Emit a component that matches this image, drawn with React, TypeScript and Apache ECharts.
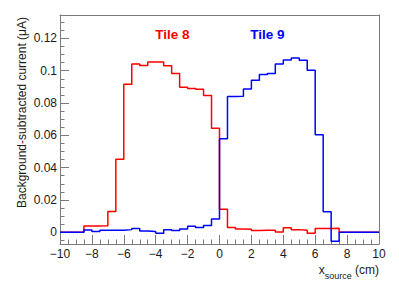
import React, { useEffect, useRef } from "react";
import * as echarts from "echarts";

// Lower edges of the 0.5 cm bins (x_source, cm)
const binLowEdges = [
  -10, -9.5, -9, -8.5, -8, -7.5, -7, -6.5, -6, -5.5,
  -5, -4.5, -4, -3.5, -3, -2.5, -2, -1.5, -1, -0.5,
  0, 0.5, 1, 1.5, 2, 2.5, 3, 3.5, 4, 4.5,
  5, 5.5, 6, 6.5, 7, 7.5, 8, 8.5, 9, 9.5,
];
const xUpperEdge = 10;

// Background-subtracted current (µA)
const tile8Values = [
  0, 0, 0, 0.0039, 0.0039, 0.004, 0.0128, 0.0452, 0.0916, 0.1042,
  0.1032, 0.1054, 0.1054, 0.103, 0.0983, 0.0897, 0.089, 0.0885, 0.0846, 0.0643,
  0.0142, 0.0029, 0.002, 0.0018, 0.001, 0.0012, 0.0012, 0.0002, 0.0027, 0.0016,
  0.0012, -0.0006, 0.0023, 0.0023, 0.0025, 0, 0, 0, 0, 0,
];
const tile9Values = [
  0, 0, 0, 0.0014, 0.0004, 0.0012, 0.0012, 0.0012, 0.0016, 0.0023,
  0.0008, 0.0004, -0.0006, 0.0016, 0.001, 0.002, 0.0037, 0.0029, 0.0041, 0.0082,
  0.0578, 0.084, 0.0842, 0.0887, 0.0941, 0.0976, 0.0982, 0.1042, 0.1067, 0.1079,
  0.1065, 0.1003, 0.0604, 0.0126, -0.0056, 0, 0, 0, 0, 0,
];

const seriesNames = ["Tile 8", "Tile 9"];
const yTitle = "Background-subtracted current (μA)";

const FONT = "'Liberation Sans', Arial, Helvetica, sans-serif";
const AXIS_COLOR = "#7a7a7a";
const LABEL_COLOR = "#1a1a1a";

function histData(values: number[]) {
  const d: [number, number][] = binLowEdges.map((x, i) => [x, values[i]]);
  d.push([xUpperEdge, values[values.length - 1]]);
  return d;
}

export default function App() {
  const ref = useRef<HTMLDivElement>(null);
  useEffect(() => {
    if (!ref.current) return;
    const chart = echarts.init(ref.current, undefined, { renderer: "svg" });
    const left = 60, top = 15, right = 20, bottom = 44;
    const axisTickCommon = {
      axisLine: { show: true, onZero: false, lineStyle: { color: AXIS_COLOR, width: 1 } },
      axisTick: { show: true, inside: true, length: 9, lineStyle: { color: AXIS_COLOR } },
      minorTick: { show: true, splitNumber: 4, length: 4.5, lineStyle: { color: AXIS_COLOR } },
      splitLine: { show: false },
      minorSplitLine: { show: false },
    };
    const frameLine = {
      axisLine: { show: true, onZero: false, lineStyle: { color: AXIS_COLOR, width: 1 } },
      axisTick: { show: false },
      axisLabel: { show: false },
      splitLine: { show: false },
    };
    chart.setOption({
      animation: false,
      backgroundColor: "#ffffff",
      grid: { left, top, right, bottom, containLabel: false },
      xAxis: [
        {
          type: "value",
          min: -10,
          max: 10,
          interval: 2,
          position: "bottom",
          ...axisTickCommon,
          axisLabel: {
            color: LABEL_COLOR,
            fontSize: 12,
            fontFamily: FONT,
            margin: 4,
            formatter: (v: number) => String(v).replace("-", "\u2212"),
          },
        },
        { type: "value", min: -10, max: 10, position: "top", ...frameLine },
      ],
      yAxis: [
        {
          type: "value",
          min: -0.0073,
          max: 0.1345,
          splitNumber: 7,
          position: "left",
          ...axisTickCommon,
          axisLabel: {
            color: LABEL_COLOR,
            fontSize: 12,
            fontFamily: FONT,
            margin: 3,
            showMinLabel: false,
            showMaxLabel: false,
          },
        },
        { type: "value", min: -0.0073, max: 0.1345, position: "right", ...frameLine },
      ],
      series: [
        {
          name: seriesNames[0],
          type: "line",
          step: "end",
          symbol: "none",
          xAxisIndex: 0,
          yAxisIndex: 0,
          lineStyle: { color: "#ff0000", width: 1.5 },
          itemStyle: { color: "#ff0000" },
          data: histData(tile8Values),
        },
        {
          name: seriesNames[1],
          type: "line",
          step: "end",
          symbol: "none",
          xAxisIndex: 0,
          yAxisIndex: 0,
          lineStyle: { color: "#0000ff", width: 1.5 },
          itemStyle: { color: "#0000ff" },
          data: histData(tile9Values),
        },
      ],
      graphic: [
        {
          type: "text",
          x: 172.5,
          y: 34,
          style: {
            text: seriesNames[0],
            fill: "#ff0000",
            font: `bold 13.5px ${FONT}`,
            align: "center",
            verticalAlign: "middle",
          },
        },
        {
          type: "text",
          x: 267.5,
          y: 34,
          style: {
            text: seriesNames[1],
            fill: "#0000ff",
            font: `bold 13.5px ${FONT}`,
            align: "center",
            verticalAlign: "middle",
          },
        },
        {
          type: "text",
          x: 22,
          y: 17,
          rotation: Math.PI / 2,
          style: {
            text: yTitle,
            fill: LABEL_COLOR,
            font: `12px ${FONT}`,
            align: "right",
            verticalAlign: "middle",
          },
        },
        {
          type: "text",
          x: 379,
          y: 268,
          style: {
            text: "{a|x}{b|source}{a| (cm)}",
            align: "right",
            verticalAlign: "middle",
            rich: {
              a: { fontSize: 12, fontFamily: FONT, fill: LABEL_COLOR, lineHeight: 16, verticalAlign: "bottom" },
              b: { fontSize: 9, fontFamily: FONT, fill: LABEL_COLOR, lineHeight: 16, verticalAlign: "bottom", padding: [0, 0, -4, 0] },
            },
          },
        },
      ],
    });
    return () => chart.dispose();
  }, []);
  return (
    <div
      ref={ref}
      style={{ position: "fixed", left: 0, top: 0, width: 399, height: 288 }}
    />
  );
}
